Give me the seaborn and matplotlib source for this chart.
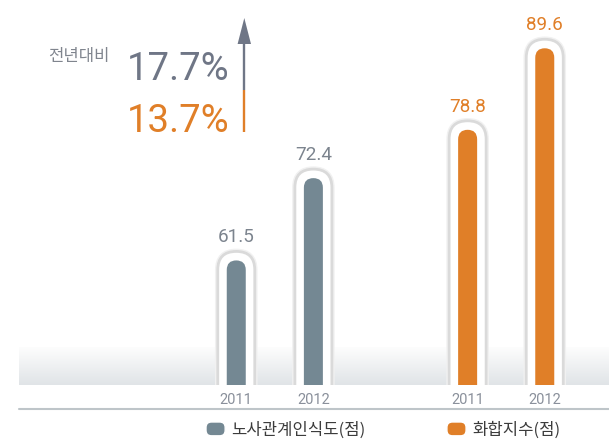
import numpy as np
import pandas as pd
import matplotlib
matplotlib.use("Agg")
import matplotlib.pyplot as plt
import seaborn as sns
from matplotlib.patches import FancyBboxPatch, Patch, Polygon
from matplotlib.lines import Line2D
from matplotlib.legend_handler import HandlerPatch
from matplotlib.colors import LinearSegmentedColormap

# ---- data -------------------------------------------------------------
years = ["2011", "2012"]
series_names = ["노사관계인식도(점)", "화합지수(점)"]
labor_relations = [61.5, 72.4]
harmony_index = [78.8, 89.6]
change_title = "전년대비"
growth_labels = ["17.7%", "13.7%"]

# ---- style ------------------------------------------------------------
GRAY = "#748893"
ORANGE = "#e07f28"
GRAY_TEXT = "#6f7686"
LABEL_GRAY = "#7c848e"
TICK_GRAY = "#8a909b"

sns.set_style("white")
plt.rcParams["font.family"] = ["Noto Sans CJK KR", "DejaVu Sans"]
NUM_FONT = ["Roboto", "DejaVu Sans"]

W, H = 609, 442
fig = plt.figure(figsize=(W / 100, H / 100), dpi=100)


def fx(x):
    return x / W


def fy(y):
    return 1 - y / H


ax = fig.add_axes([fx(19), fy(385), fx(609) - fx(19), fy(0) - fy(385)])

df = pd.DataFrame({
    "series": [s for s in series_names for _ in years],
    "year": years * len(series_names),
    "score": labor_relations + harmony_index,
})
# one empty slot between the two groups
df["pos"] = [g * 3 + i for g in range(len(series_names)) for i in range(len(years))]

XLIM = (-2.817, 4.833)
YLIM = (45.0, 45.0 + 385 / 7.55)
dx = (XLIM[1] - XLIM[0]) / 590.0   # data units per pixel
dy = (YLIM[1] - YLIM[0]) / 385.0
aspect = dy / dx

# soft gradient band along the floor
grad = np.linspace(0, 1, 256).reshape(-1, 1)
cmap = LinearSegmentedColormap.from_list("floor", ["#fdfdfd", "#e0e4e7"])
ax.imshow(grad, extent=[XLIM[0], XLIM[1], YLIM[0], YLIM[0] + 38 * dy],
          aspect="auto", cmap=cmap, origin="upper", zorder=0.5)

sns.barplot(data=df, x="pos", y="score", hue="series",
            palette=[GRAY, ORANGE], saturation=1, native_scale=True, dodge=False,
            width=19 / 77.12, errorbar=None, legend=False, ax=ax)

ax.set_xlim(*XLIM)
ax.set_ylim(*YLIM)

# turn the flat bars into capsules with a white rounded frame
for p in list(ax.patches):
    x0, w, h = p.get_x(), p.get_width(), p.get_height()
    color = p.get_facecolor()
    p.remove()
    cx = x0 + w / 2
    pad = 9
    wo = w + 2 * pad * dx
    for lw, ec, z in [(4.0, "#f1f1f1", 1.8), (2.0, "#dadada", 1.9)]:
        ax.add_patch(FancyBboxPatch(
            (cx - wo / 2, 0), wo, h + pad * dy,
            boxstyle=f"round,pad=0,rounding_size={wo / 2}",
            mutation_aspect=aspect, facecolor="white", edgecolor=ec,
            linewidth=lw, zorder=z))
    ax.add_patch(FancyBboxPatch(
        (x0, 0), w, h,
        boxstyle=f"round,pad=0,rounding_size={w / 2}",
        mutation_aspect=aspect, facecolor=color, edgecolor="none", zorder=3))

for _, row in df.iterrows():
    c = LABEL_GRAY if row["series"] == series_names[0] else ORANGE
    ax.annotate(f"{row['score']:.1f}", xy=(row["pos"], row["score"]),
                xytext=(0, 13), textcoords="offset points",
                ha="center", va="baseline", fontsize=13.6, color=c,
                family=NUM_FONT)

ax.set_xticks(df["pos"], labels=df["year"])
ax.tick_params(axis="x", length=0, pad=6, labelsize=10.5, labelcolor=TICK_GRAY)
for t in ax.get_xticklabels():
    t.set_family(NUM_FONT)
ax.set_yticks([])
ax.set_xlabel("")
ax.set_ylabel("")
sns.despine(ax=ax, left=True, bottom=True)
ax.set_facecolor("none")

# floor line under the year labels
fig.add_artist(Line2D([fx(19), 1], [fy(409.3)] * 2, lw=1.5,
                      color="#bec5c9", transform=fig.transFigure))

# year-over-year change note with arrow
fig.text(fx(48), fy(56), change_title, ha="left", va="center",
         fontsize=12, color="#80858e")
fig.text(fx(127), fy(80), growth_labels[0], ha="left", va="baseline",
         fontsize=27.5, color=GRAY_TEXT, family=NUM_FONT)
fig.text(fx(127), fy(132), growth_labels[1], ha="left", va="baseline",
         fontsize=27.5, color=ORANGE, family=NUM_FONT)

ax_x = fx(244.3)
fig.add_artist(Line2D([ax_x, ax_x], [fy(132), fy(90)], lw=1.7,
                      color=ORANGE, transform=fig.transFigure,
                      solid_capstyle="butt"))
fig.add_artist(Line2D([ax_x, ax_x], [fy(90), fy(42)], lw=1.7,
                      color=GRAY_TEXT, transform=fig.transFigure,
                      solid_capstyle="butt"))
fig.add_artist(Polygon([[fx(244.3 - 6.7), fy(44)], [fx(244.3 + 6.7), fy(44)],
                        [ax_x, fy(18)]], closed=True, facecolor=GRAY_TEXT,
                       edgecolor="none", transform=fig.transFigure))


def rounded_handle(legend, orig_handle, xdescent, ydescent, width, height, fontsize):
    return FancyBboxPatch((-xdescent, -ydescent), width, height,
                          boxstyle=f"round,pad=0,rounding_size={height * 0.4}")


handles = [Patch(facecolor=GRAY), Patch(facecolor=ORANGE)]
leg = fig.legend(handles, series_names, loc="center left",
                 bbox_to_anchor=(fx(206), fy(430)), ncol=2, frameon=False,
                 prop={"family": "Noto Sans CJK KR", "size": 12},
                 handlelength=1.15, handleheight=0.9, handletextpad=0.35,
                 columnspacing=4.9, borderpad=0, borderaxespad=0,
                 handler_map={Patch: HandlerPatch(patch_func=rounded_handle)})
for t in leg.get_texts():
    t.set_color("#3c3c3c")

fig.savefig("out.png", dpi=100)
